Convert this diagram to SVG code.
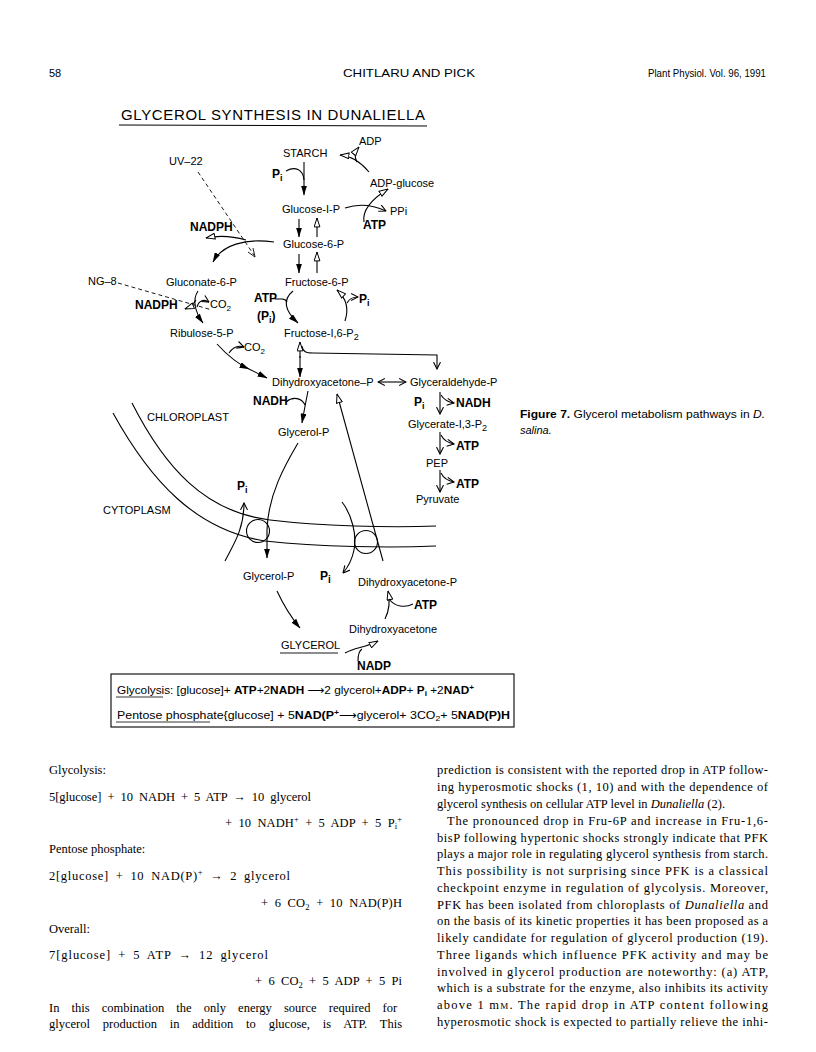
<svg xmlns="http://www.w3.org/2000/svg" width="816" height="1052" viewBox="0 0 816 1052">
<style>
.t{font-family:"Liberation Sans",Arial,sans-serif;font-size:11px;fill:#000}
.b{font-weight:bold;font-size:12px}
.h{font-family:"Liberation Sans",Arial,sans-serif;font-size:11px;fill:#000}
.body{font-family:"Liberation Serif","Times New Roman",serif;font-size:12.5px;fill:#000}
.ln{fill:none;stroke:#000;stroke-width:1.1}
.ds{fill:none;stroke:#000;stroke-width:0.9;stroke-dasharray:4 3}
.box{font-family:"Liberation Sans",Arial,"DejaVu Sans",sans-serif;font-size:11.5px;fill:#000}
</style>
<defs>
<marker id="fa" viewBox="0 0 10 6" refX="9.5" refY="3" markerWidth="10" markerHeight="6" markerUnits="userSpaceOnUse" orient="auto"><path d="M0,0 L10,3 L0,6 Z" fill="#000"/></marker>
<marker id="oa" viewBox="0 0 10 7" refX="9.5" refY="3.5" markerWidth="10" markerHeight="7" markerUnits="userSpaceOnUse" orient="auto"><path d="M0.6,0.6 L9.4,3.5 L0.6,6.4 Z" fill="#fff" stroke="#000" stroke-width="1"/></marker>
<marker id="ch" viewBox="0 0 8 8" refX="7.4" refY="4" markerWidth="8" markerHeight="8" markerUnits="userSpaceOnUse" orient="auto"><path d="M0.5,0.5 L7.4,4 L0.5,7.5" fill="none" stroke="#000" stroke-width="1.1"/></marker>
<marker id="chs" viewBox="0 0 8 8" refX="0.6" refY="4" markerWidth="8" markerHeight="8" markerUnits="userSpaceOnUse" orient="auto"><path d="M7.5,0.5 L0.6,4 L7.5,7.5" fill="none" stroke="#000" stroke-width="1.1"/></marker>
</defs>
<rect width="816" height="1052" fill="#fff"/>

<g id="header">
<text class="h" x="49" y="77">58</text>
<text class="h" x="343" y="77" textLength="132" lengthAdjust="spacingAndGlyphs">CHITLARU AND PICK</text>
<text class="h" x="766" y="77" text-anchor="end" textLength="118" lengthAdjust="spacingAndGlyphs">Plant Physiol. Vol. 96, 1991</text>
</g>

<g id="title">
<text x="121" y="120" font-family="Liberation Sans,Arial,sans-serif" font-size="15" textLength="304" lengthAdjust="spacing">GLYCEROL SYNTHESIS IN DUNALIELLA</text>
<line x1="119" y1="125" x2="427" y2="126" stroke="#000" stroke-width="1"/>
</g>

<g id="membrane">
<path class="ln" d="M132,403 C165,468 205,512 270,520 C320,526 390,528 436,526"/>
<path class="ln" d="M113,413 C150,480 195,530 265,541 C320,547 390,548 436,546"/>
<circle cx="258" cy="531" r="11.5" fill="none" stroke="#000" stroke-width="1.1"/>
<circle cx="366" cy="542" r="11.5" fill="none" stroke="#000" stroke-width="1.1"/>
</g>

<g id="connectors">
<path class="ln" d="M304,162 L304,195" marker-end="url(#fa)"/>
<path class="ln" d="M286,171 C295,166 303,169 304,180"/>
<path class="ln" d="M369,172 C360,161 351,156 340,155" marker-end="url(#oa)"/>
<path class="ln" d="M357,162 C354,157 355,152 359,147" marker-end="url(#oa)"/>
<path class="ln" d="M345,208 C360,203 373,205 386,211" marker-end="url(#ch)"/>
<path class="ln" d="M364,222 C362,210 372,199 388,189" marker-end="url(#oa)"/>
<path class="ln" d="M299,219 L299,237" marker-end="url(#fa)"/>
<path class="ln" d="M317,237 L317,218" marker-end="url(#oa)"/>
<path class="ln" d="M274,242 C245,238 222,245 213,262" marker-end="url(#fa)"/>
<path class="ln" d="M246,240 C232,236 220,235 206,238" marker-end="url(#oa)"/>
<path class="ds" d="M198,172 L254,255"/>
<path d="M248,252 L255,257 L253,248" fill="none" stroke="#000" stroke-width="0.9"/>
<path class="ds" d="M118,283 L212,310"/>
<path class="ln" d="M198,291 C192,300 195,312 203,323" marker-end="url(#fa)"/>
<path class="ln" d="M196,300 C193,305 190,307 185,309" marker-end="url(#oa)"/>
<path class="ln" d="M197,307 C199,300 204,299 209,302" marker-end="url(#ch)"/>
<path class="ln" d="M217,344 C228,356 238,364 249,369" marker-end="url(#fa)"/>
<path class="ln" d="M249,369 L267,378" marker-end="url(#fa)"/>
<path class="ln" d="M229,353 C233,347 238,345 244,347" marker-end="url(#ch)"/>
<path class="ln" d="M299,254 L299,273" marker-end="url(#fa)"/>
<path class="ln" d="M317,273 L317,252" marker-end="url(#oa)"/>
<path class="ln" d="M293,291 C282,300 285,311 298,323" marker-end="url(#fa)"/>
<path class="ln" d="M275,299 L282,299 C285,299 286,300 287,302"/>
<path class="ln" d="M345,321 C349,309 346,298 337,290" marker-end="url(#oa)"/>
<path class="ln" d="M347,303 C350,298 353,297 358,297" marker-end="url(#ch)"/>
<path class="ln" d="M300,358 L300,342" marker-end="url(#oa)"/>
<path class="ln" d="M300,356 L300,377" marker-end="url(#fa)"/>
<path class="ln" d="M302,346 C303,352 306,353 313,353 L437,355 L437,369" marker-end="url(#ch)"/>
<path class="ln" d="M378,382 L406,382" marker-start="url(#chs)" marker-end="url(#ch)"/>
<path class="ln" d="M308,391 C306,401 304,411 302,423" marker-end="url(#fa)"/>
<path class="ln" d="M286,402 C293,396 302,398 305,405"/>
<path class="ln" d="M440,392 L440,414" marker-end="url(#ch)"/>
<path class="ln" d="M441,395 C444,400 448,402 454,403" marker-end="url(#ch)"/>
<path class="ln" d="M440,432 L440,454" marker-end="url(#ch)"/>
<path class="ln" d="M441,435 C444,441 448,443 454,444" marker-end="url(#ch)"/>
<path class="ln" d="M440,470 L440,492" marker-end="url(#ch)"/>
<path class="ln" d="M441,473 C444,479 448,481 454,482" marker-end="url(#ch)"/>
<path class="ln" d="M298,443 C285,465 268,495 267,530 L267,558" marker-end="url(#fa)"/>
<path class="ln" d="M225,561 C233,545 244,530 244,503" marker-end="url(#ch)"/>
<path class="ln" d="M383,561 L337,394" marker-end="url(#oa)"/>
<path class="ln" d="M342,502 C352,515 357,535 354,550 C352,560 349,566 343,573" marker-end="url(#ch)"/>
<path class="ln" d="M277,591 C283,604 290,616 300,628" marker-end="url(#fa)"/>
<path class="ln" d="M385,619 C390,609 390,600 388,591" marker-end="url(#oa)"/>
<path class="ln" d="M389,599 C395,607 405,608 413,604"/>
<path class="ln" d="M345,653 C355,647 365,648 378,641" marker-end="url(#oa)"/>
<path class="ln" d="M358,661 C358,655 359,651 362,649"/>
</g>

<g id="n-starch"><text class="t" x="283" y="157" font-size="13.5">STARCH</text></g>
<g id="n-adp"><text class="t" x="359" y="145" font-size="11.5">ADP</text></g>
<g id="n-uv22"><text class="t" x="169" y="165">UV–22</text></g>
<g id="n-pi1"><text class="t b" x="272" y="178" font-size="13">P<tspan dy="3" font-size="9">i</tspan></text></g>
<g id="n-adpglucose"><text class="t" x="370" y="187">ADP-glucose</text></g>
<g id="n-g1p"><text class="t" x="282" y="213">Glucose-I-P</text></g>
<g id="n-ppi"><text class="t" x="390" y="215">PPi</text></g>
<g id="n-atp1"><text class="t b" x="363" y="229">ATP</text></g>
<g id="n-nadph1"><text class="t b" x="190" y="231">NADPH</text></g>
<g id="n-g6p"><text class="t" x="283" y="248">Glucose-6-P</text></g>
<g id="n-ng8"><text class="t" x="88" y="285">NG–8</text></g>
<g id="n-gluconate"><text class="t" x="166" y="286">Gluconate-6-P</text></g>
<g id="n-f6p"><text class="t" x="285" y="286">Fructose-6-P</text></g>
<g id="n-nadph2"><text class="t b" x="135" y="309">NADPH</text></g>
<g id="n-co2a"><text class="t" x="210" y="308">CO<tspan dy="3" font-size="8">2</tspan></text></g>
<g id="n-atp2"><text class="t b" x="254" y="302">ATP</text></g>
<g id="n-pi2"><text class="t b" x="257" y="320">(P<tspan dy="3" font-size="9">i</tspan><tspan dy="-3">)</tspan></text></g>
<g id="n-pi3"><text class="t b" x="359" y="303" font-size="13">P<tspan dy="3" font-size="9">i</tspan></text></g>
<g id="n-ribulose"><text class="t" x="170" y="337">Ribulose-5-P</text></g>
<g id="n-f16p2"><text class="t" x="284" y="337">Fructose-I,6-P<tspan dy="3" font-size="9">2</tspan></text></g>
<g id="n-co2b"><text class="t" x="244" y="351">CO<tspan dy="3" font-size="8">2</tspan></text></g>
<g id="n-dhap1"><text class="t" x="272" y="386">Dihydroxyacetone–P</text></g>
<g id="n-gap"><text class="t" x="410" y="386">Glyceraldehyde-P</text></g>
<g id="n-nadh1"><text class="t b" x="253" y="405">NADH</text></g>
<g id="n-pi4"><text class="t b" x="414" y="406" font-size="13">P<tspan dy="3" font-size="9">i</tspan></text></g>
<g id="n-nadh2"><text class="t b" x="456" y="407">NADH</text></g>
<g id="n-chloroplast"><text class="t" x="147" y="421" font-size="11.5">CHLOROPLAST</text></g>
<g id="n-glycerate"><text class="t" x="408" y="428">Glycerate-I,3-P<tspan dy="3" font-size="9">2</tspan></text></g>
<g id="n-glycerolp1"><text class="t" x="278" y="436">Glycerol-P</text></g>
<g id="n-atp3"><text class="t b" x="456" y="450">ATP</text></g>
<g id="n-pep"><text class="t" x="426" y="467">PEP</text></g>
<g id="n-atp4"><text class="t b" x="456" y="488">ATP</text></g>
<g id="n-pi5"><text class="t b" x="237" y="490" font-size="12">P<tspan dy="3" font-size="9">i</tspan></text></g>
<g id="n-pyruvate"><text class="t" x="416" y="503">Pyruvate</text></g>
<g id="n-cytoplasm"><text class="t" x="103" y="514" font-size="11.5">CYTOPLASM</text></g>
<g id="n-glycerolp2"><text class="t" x="243" y="580">Glycerol-P</text></g>
<g id="n-pi6"><text class="t b" x="320" y="580" font-size="14">P<tspan dy="3" font-size="10">i</tspan></text></g>
<g id="n-dhap2"><text class="t" x="358" y="586">Dihydroxyacetone-P</text></g>
<g id="n-atp5"><text class="t b" x="414" y="609">ATP</text></g>
<g id="n-dha"><text class="t" x="349" y="633">Dihydroxyacetone</text></g>
<g id="n-glycerol"><text class="t" x="281" y="649">GLYCEROL</text><line x1="280" y1="653" x2="338" y2="653" stroke="#000" stroke-width="0.9"/></g>
<g id="n-nadp"><text class="t b" x="357" y="670" font-size="11">NADP</text></g>

<g id="summary-box">
<rect x="111" y="674" width="403" height="53" fill="none" stroke="#000" stroke-width="1.1"/>
<text class="box" x="117" y="694" textLength="357" lengthAdjust="spacingAndGlyphs">Glycolysis: [glucose]+ <tspan font-weight="bold">ATP</tspan>+2<tspan font-weight="bold">NADH</tspan> ⟶2 glycerol+<tspan font-weight="bold">ADP</tspan>+ <tspan font-weight="bold">P</tspan><tspan dy="2" font-size="8" font-weight="bold">i</tspan><tspan dy="-2"> +2</tspan><tspan font-weight="bold">NAD</tspan><tspan dy="-4" font-size="8" font-weight="bold">+</tspan></text>
<line x1="116" y1="697" x2="163" y2="697" stroke="#000" stroke-width="0.8"/>
<text class="box" x="117" y="719" textLength="393" lengthAdjust="spacingAndGlyphs">Pentose phosphate{glucose] + 5<tspan font-weight="bold">NAD(P</tspan><tspan dy="-4" font-size="8" font-weight="bold">+</tspan><tspan dy="4">⟶glycerol+ 3CO</tspan><tspan dy="2" font-size="8">2</tspan><tspan dy="-2">+ 5</tspan><tspan font-weight="bold">NAD(P)H</tspan></text>
<line x1="116" y1="722" x2="210" y2="722" stroke="#000" stroke-width="0.8"/>
</g>

<g id="caption">
<text class="h" x="520" y="418" font-size="10.5" textLength="245" lengthAdjust="spacingAndGlyphs"><tspan font-weight="bold">Figure 7.</tspan> Glycerol metabolism pathways in <tspan font-style="italic">D.</tspan></text>
<text class="h" x="520" y="434" font-size="10.5" font-style="italic">salina.</text>
</g>

<g id="body-left">
<text class="body" x="49" y="774">Glycolysis:</text>
<text class="body" x="49" y="801" word-spacing="3" textLength="262" lengthAdjust="spacing">5[glucose] + 10 NADH + 5 ATP → 10 glycerol</text>
<text class="body" x="402" y="827" text-anchor="end" word-spacing="3" textLength="177" lengthAdjust="spacing">+ 10 NADH<tspan dy="-5" font-size="8.5">+</tspan><tspan dy="5"> + 5 ADP + 5 P</tspan><tspan dy="2" font-size="8.5">i</tspan><tspan dy="-7" font-size="8.5">+</tspan></text>
<text class="body" x="49" y="853">Pentose phosphate:</text>
<text class="body" x="49" y="880" word-spacing="3" textLength="241" lengthAdjust="spacing">2[glucose] + 10 NAD(P)<tspan dy="-5" font-size="8.5">+</tspan><tspan dy="5"> → 2 glycerol</tspan></text>
<text class="body" x="402" y="907" text-anchor="end" word-spacing="3" textLength="141" lengthAdjust="spacing">+ 6 CO<tspan dy="3" font-size="8.5">2</tspan><tspan dy="-3"> + 10 NAD(P)H</tspan></text>
<text class="body" x="49" y="933">Overall:</text>
<text class="body" x="49" y="959" word-spacing="3" textLength="219" lengthAdjust="spacing">7[glucose] + 5 ATP → 12 glycerol</text>
<text class="body" x="402" y="985" text-anchor="end" word-spacing="3" textLength="147" lengthAdjust="spacing">+ 6 CO<tspan dy="3" font-size="8.5">2</tspan><tspan dy="-3"> + 5 ADP + 5 Pi</tspan></text>
<text class="body" x="49" y="1012" word-spacing="9">In this combination the only energy source required for</text>
<text class="body" x="49" y="1028" word-spacing="9.7">glycerol production in addition to glucose, is ATP. This</text>
</g>

<g id="body-right">
<text class="body" x="437" y="774" textLength="331" lengthAdjust="spacing">prediction is consistent with the reported drop in ATP follow-</text>
<text class="body" x="437" y="791" textLength="331" lengthAdjust="spacing">ing hyperosmotic shocks (1, 10) and with the dependence of</text>
<text class="body" x="437" y="808">glycerol synthesis on cellular ATP level in <tspan font-style="italic">Dunaliella</tspan> (2).</text>
<text class="body" x="447" y="825" textLength="321" lengthAdjust="spacing">The pronounced drop in Fru-6P and increase in Fru-1,6-</text>
<text class="body" x="437" y="842" textLength="331" lengthAdjust="spacing">bisP following hypertonic shocks strongly indicate that PFK</text>
<text class="body" x="437" y="858" textLength="331" lengthAdjust="spacing">plays a major role in regulating glycerol synthesis from starch.</text>
<text class="body" x="437" y="875" textLength="331" lengthAdjust="spacing">This possibility is not surprising since PFK is a classical</text>
<text class="body" x="437" y="892" textLength="331" lengthAdjust="spacing">checkpoint enzyme in regulation of glycolysis. Moreover,</text>
<text class="body" x="437" y="909" textLength="331" lengthAdjust="spacing">PFK has been isolated from chloroplasts of <tspan font-style="italic">Dunaliella</tspan> and</text>
<text class="body" x="437" y="925" textLength="331" lengthAdjust="spacing">on the basis of its kinetic properties it has been proposed as a</text>
<text class="body" x="437" y="942" textLength="331" lengthAdjust="spacing">likely candidate for regulation of glycerol production (19).</text>
<text class="body" x="437" y="959" textLength="331" lengthAdjust="spacing">Three ligands which influence PFK activity and may be</text>
<text class="body" x="437" y="976" textLength="331" lengthAdjust="spacing">involved in glycerol production are noteworthy: (a) ATP,</text>
<text class="body" x="437" y="992" textLength="331" lengthAdjust="spacing">which is a substrate for the enzyme, also inhibits its activity</text>
<text class="body" x="437" y="1009" textLength="331" lengthAdjust="spacing">above 1 m<tspan font-size="9">M</tspan>. The rapid drop in ATP content following</text>
<text class="body" x="437" y="1026" textLength="331" lengthAdjust="spacing">hyperosmotic shock is expected to partially relieve the inhi-</text>
</g>
</svg>
